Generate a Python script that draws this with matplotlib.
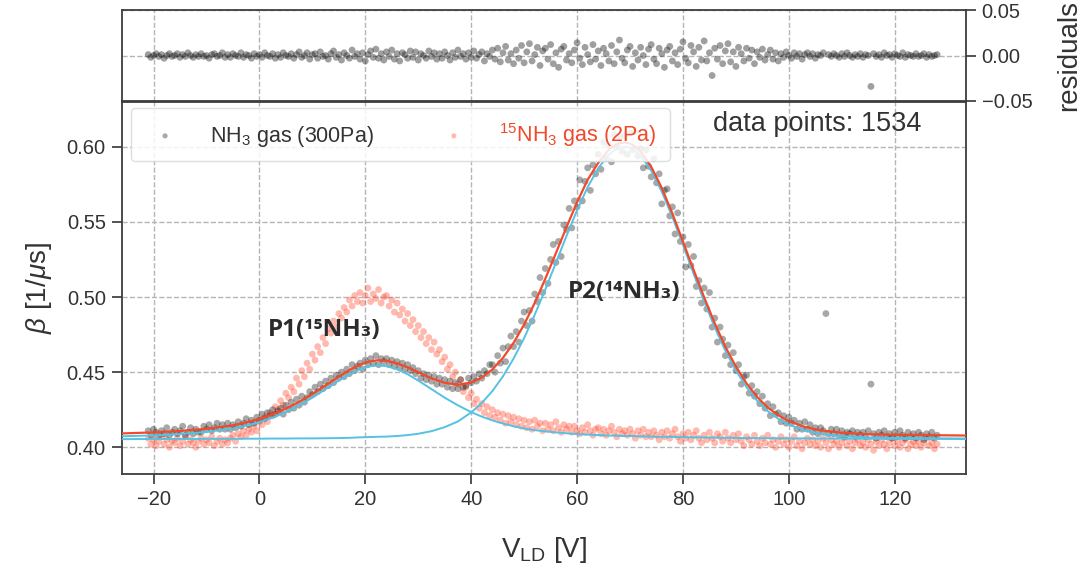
import numpy as np
import matplotlib
matplotlib.use("Agg")
import matplotlib.pyplot as plt

plt.rcParams['font.family'] = ['Liberation Sans', 'DejaVu Sans']
plt.rcParams['mathtext.fontset'] = 'custom'
plt.rcParams['mathtext.rm'] = 'Liberation Sans'
plt.rcParams['mathtext.it'] = 'Liberation Sans:italic'
plt.rcParams['mathtext.bf'] = 'Liberation Sans:bold'

# ---------------- data ----------------
v_start, v_stop, v_step = -21.0, 128.0, 0.5   # laser-diode voltage sampling

nh3_beta = [
    0.411, 0.408, 0.412, 0.410, 0.407, 0.411, 0.409, 0.413, 0.408, 0.410,
    0.412, 0.409, 0.411, 0.414, 0.408, 0.410, 0.413, 0.409, 0.412, 0.410,
    0.410, 0.414, 0.412, 0.415, 0.411, 0.413, 0.416, 0.412, 0.415, 0.412,
    0.416, 0.412, 0.415, 0.413, 0.417, 0.414, 0.416, 0.419, 0.415, 0.418,
    0.416, 0.420, 0.418, 0.422, 0.419, 0.423, 0.421, 0.425, 0.422, 0.424,
    0.426, 0.422, 0.428, 0.425, 0.430, 0.426, 0.432, 0.428, 0.434, 0.430,
    0.433, 0.437, 0.435, 0.440, 0.437, 0.442, 0.439, 0.444, 0.441, 0.446,
    0.443, 0.448, 0.446, 0.450, 0.447, 0.452, 0.449, 0.455, 0.451, 0.454,
    0.456, 0.452, 0.458, 0.455, 0.459, 0.456, 0.461, 0.455, 0.459, 0.457,
    0.459, 0.455, 0.458, 0.454, 0.457, 0.453, 0.456, 0.452, 0.455, 0.451,
    0.453, 0.449, 0.451, 0.446, 0.449, 0.445, 0.448, 0.444, 0.447, 0.442,
    0.446, 0.442, 0.445, 0.440, 0.444, 0.439, 0.443, 0.439, 0.445, 0.440,
    0.441, 0.446, 0.443, 0.447, 0.444, 0.449, 0.446, 0.451, 0.449, 0.455,
    0.455, 0.450, 0.461, 0.456, 0.466, 0.457, 0.467, 0.474, 0.467, 0.477,
    0.470, 0.484, 0.490, 0.481, 0.491, 0.484, 0.502, 0.497, 0.513, 0.503,
    0.519, 0.509, 0.525, 0.535, 0.523, 0.537, 0.527, 0.548, 0.545, 0.559,
    0.546, 0.564, 0.560, 0.578, 0.564, 0.577, 0.586, 0.571, 0.588, 0.582,
    0.595, 0.585, 0.603, 0.592, 0.601, 0.590, 0.608, 0.600, 0.607, 0.597,
    0.607, 0.595, 0.609, 0.598, 0.610, 0.594, 0.599, 0.586, 0.598, 0.587,
    0.580, 0.592, 0.576, 0.582, 0.562, 0.571, 0.572, 0.554, 0.560, 0.542,
    0.556, 0.537, 0.540, 0.520, 0.535, 0.521, 0.527, 0.507, 0.511, 0.496,
    0.506, 0.492, 0.503, 0.480, 0.486, 0.470, 0.480, 0.472, 0.461, 0.468,
    0.455, 0.463, 0.451, 0.455, 0.442, 0.447, 0.448, 0.436, 0.441, 0.434,
    0.437, 0.429, 0.434, 0.426, 0.429, 0.421, 0.427, 0.422, 0.423, 0.417,
    0.421, 0.416, 0.420, 0.416, 0.418, 0.412, 0.416, 0.412, 0.417, 0.412,
    0.415, 0.410, 0.413, 0.409, 0.413, 0.411, 0.489, 0.409, 0.412, 0.409,
    0.412, 0.408, 0.411, 0.407, 0.410, 0.409, 0.411, 0.407, 0.410, 0.408,
    0.410, 0.407, 0.411, 0.442, 0.409, 0.406, 0.410, 0.408, 0.411, 0.407,
    0.409, 0.406, 0.410, 0.407, 0.411, 0.408, 0.406, 0.410, 0.407, 0.409,
    0.406, 0.410, 0.408, 0.405, 0.409, 0.407, 0.410, 0.406, 0.408,
]

nh3_resid = [
    0.001, -0.002, 0.000, 0.002, -0.001, 0.001, -0.003, 0.000, 0.002, -0.001,
    0.000, 0.002, -0.002, 0.001, -0.001, 0.003, 0.000, -0.002, 0.001, -0.001,
    0.002, -0.001, 0.000, -0.003, 0.001, 0.002, -0.001, 0.000, 0.003, -0.002,
    0.001, -0.002, 0.002, 0.000, -0.001, 0.003, -0.002, 0.001, 0.000, -0.003,
    0.002, -0.001, 0.001, -0.002, 0.003, 0.000, -0.001, 0.002, -0.003, 0.001,
    -0.002, 0.003, 0.000, -0.001, 0.002, -0.003, 0.001, 0.004, -0.002, 0.000,
    0.003, -0.004, 0.001, 0.002, -0.003, 0.004, -0.001, 0.000, -0.004, 0.002,
    0.005, -0.002, 0.001, -0.005, 0.003, 0.000, -0.003, 0.006, -0.001, 0.002,
    -0.004, 0.003, -0.006, 0.001, 0.005, -0.002, 0.007, -0.003, 0.002, -0.005,
    0.004, -0.001, 0.006, -0.004, 0.002, -0.006, 0.003, 0.001, -0.003, 0.005,
    -0.002, 0.004, -0.005, 0.002, 0.000, -0.003, 0.005, -0.001, 0.003, -0.004,
    0.002, -0.003, 0.004, 0.000, -0.005, 0.003, -0.002, 0.006, -0.001, 0.002,
    -0.004, 0.003, -0.002, 0.005, -0.003, 0.001, 0.004, -0.006, 0.002, -0.001,
    0.006, -0.004, 0.008, -0.007, 0.003, 0.010, -0.005, 0.002, -0.009, 0.006,
    -0.003, 0.011, -0.008, 0.004, 0.013, -0.006, 0.001, 0.009, -0.011, 0.005,
    0.008, -0.004, 0.012, -0.009, 0.003, -0.013, 0.007, 0.010, -0.005, 0.002,
    -0.008, 0.006, 0.014, -0.003, -0.010, 0.009, 0.001, -0.007, 0.012, -0.004,
    0.005, -0.011, 0.008, 0.002, -0.006, 0.011, -0.009, 0.004, 0.017, -0.003,
    -0.008, 0.006, 0.010, -0.012, 0.003, -0.005, 0.009, 0.000, -0.010, 0.007,
    0.012, -0.004, -0.009, 0.008, 0.002, -0.013, 0.006, 0.010, -0.006, 0.003,
    -0.010, 0.007, 0.015, -0.003, -0.008, 0.011, 0.004, -0.012, 0.009, -0.005,
    0.016, -0.006, 0.003, -0.022, 0.008, -0.004, 0.011, -0.009, 0.005, 0.013,
    -0.007, 0.004, -0.012, 0.009, 0.002, -0.006, 0.008, -0.003, 0.006, -0.009,
    0.004, -0.002, 0.007, -0.005, 0.001, 0.006, -0.004, 0.003, -0.006, 0.002,
    -0.002, 0.004, 0.000, -0.003, 0.003, -0.001, 0.002, -0.004, 0.001, 0.003,
    -0.001, 0.002, -0.003, 0.001, 0.000, 0.003, -0.080, 0.001, -0.001, 0.002,
    0.000, -0.002, 0.002, -0.001, 0.003, 0.000, -0.002, 0.001, -0.001, 0.002,
    -0.002, 0.001, 0.000, -0.034, 0.002, -0.001, 0.001, -0.002, 0.003, 0.000,
    0.001, -0.002, 0.002, 0.000, -0.001, 0.003, -0.002, 0.001, 0.000, -0.001,
    0.002, -0.001, 0.000, 0.002, -0.002, 0.001, -0.001, 0.000, 0.001,
]

n15_beta = [
    0.406, 0.402, 0.405, 0.401, 0.404, 0.407, 0.402, 0.405, 0.400, 0.404,
    0.403, 0.406, 0.401, 0.404, 0.407, 0.402, 0.405, 0.403, 0.400, 0.404,
    0.406, 0.402, 0.405, 0.403, 0.407, 0.401, 0.404, 0.406, 0.402, 0.405,
    0.403, 0.406, 0.408, 0.404, 0.409, 0.407, 0.411, 0.408, 0.412, 0.410,
    0.414, 0.411, 0.417, 0.415, 0.420, 0.417, 0.423, 0.421, 0.427, 0.425,
    0.431, 0.428, 0.436, 0.433, 0.440, 0.437, 0.446, 0.442, 0.451, 0.447,
    0.456, 0.452, 0.462, 0.458, 0.467, 0.463, 0.473, 0.469, 0.479, 0.476,
    0.484, 0.480, 0.489, 0.486, 0.493, 0.490, 0.498, 0.494, 0.501, 0.497,
    0.503, 0.496, 0.501, 0.506, 0.497, 0.502, 0.499, 0.505, 0.496, 0.500,
    0.501, 0.494, 0.498, 0.490, 0.496, 0.488, 0.492, 0.484, 0.489, 0.481,
    0.485, 0.477, 0.481, 0.473, 0.477, 0.469, 0.473, 0.465, 0.470, 0.462,
    0.465, 0.457, 0.460, 0.452, 0.455, 0.447, 0.450, 0.442, 0.445, 0.437,
    0.440, 0.433, 0.436, 0.429, 0.432, 0.426, 0.429, 0.423, 0.427, 0.421,
    0.425, 0.420, 0.423, 0.418, 0.422, 0.416, 0.421, 0.417, 0.420, 0.415,
    0.419, 0.414, 0.418, 0.413, 0.417, 0.412, 0.418, 0.414, 0.416, 0.411,
    0.416, 0.412, 0.415, 0.411, 0.417, 0.413, 0.410, 0.415, 0.412, 0.414,
    0.410, 0.414, 0.411, 0.409, 0.413, 0.410, 0.415, 0.411, 0.408, 0.412,
    0.413, 0.409, 0.412, 0.408, 0.411, 0.414, 0.410, 0.407, 0.412, 0.409,
    0.411, 0.408, 0.412, 0.409, 0.406, 0.411, 0.408, 0.412, 0.407, 0.410,
    0.407, 0.411, 0.408, 0.405, 0.410, 0.407, 0.411, 0.406, 0.409, 0.412,
    0.407, 0.404, 0.409, 0.406, 0.410, 0.405, 0.408, 0.411, 0.406, 0.403,
    0.408, 0.405, 0.410, 0.406, 0.403, 0.409, 0.407, 0.404, 0.410, 0.406,
    0.403, 0.408, 0.405, 0.409, 0.404, 0.401, 0.407, 0.405, 0.402, 0.408,
    0.404, 0.401, 0.406, 0.403, 0.408, 0.402, 0.405, 0.400, 0.404, 0.407,
    0.402, 0.405, 0.400, 0.404, 0.407, 0.401, 0.404, 0.399, 0.403, 0.406,
    0.402, 0.405, 0.401, 0.404, 0.400, 0.406, 0.403, 0.399, 0.405, 0.402,
    0.404, 0.400, 0.403, 0.406, 0.401, 0.404, 0.399, 0.403, 0.405, 0.401,
    0.403, 0.400, 0.405, 0.402, 0.398, 0.404, 0.401, 0.405, 0.402, 0.399,
    0.403, 0.406, 0.401, 0.404, 0.400, 0.403, 0.405, 0.399, 0.402, 0.404,
    0.401, 0.404, 0.400, 0.403, 0.406, 0.401, 0.403, 0.399, 0.402,
]

# fitted curves (total fit and the two peak components)
fit_v = [-26, -20, -15, -10, -5, -2.5, 0, 2.5, 5, 7.5,
         10, 12.5, 15, 17, 19, 21, 22.5, 24, 26, 28,
         30, 32.5, 35, 37.5, 40, 42, 44, 46, 48, 50,
         52, 54, 56, 58, 60, 62, 64, 66, 67, 68,
         69, 70, 71, 72, 74, 76, 78, 80, 82, 84,
         86, 88, 90, 92, 94, 96, 98, 100, 103, 106,
         110, 115, 120, 126, 133.4]
fit_total = [0.4092, 0.4099, 0.4108, 0.4123, 0.4146, 0.4166, 0.4189, 0.4220, 0.4257, 0.4303,
             0.4354, 0.4412, 0.4470, 0.4514, 0.4550, 0.4573, 0.4580, 0.4576, 0.4559, 0.4532,
             0.4499, 0.4459, 0.4429, 0.4416, 0.4431, 0.4464, 0.4518, 0.4595, 0.4695, 0.4817,
             0.4961, 0.5122, 0.5292, 0.5465, 0.5631, 0.5781, 0.5894, 0.5982, 0.6006, 0.6024,
             0.6029, 0.6022, 0.6002, 0.5970, 0.5867, 0.5726, 0.5556, 0.5369, 0.5181, 0.4998,
             0.4825, 0.4669, 0.4537, 0.4425, 0.4335, 0.4265, 0.4213, 0.4173, 0.4136, 0.4112,
             0.4097, 0.4087, 0.4083, 0.4081, 0.4078]
fit_p1 = [0.4073, 0.4079, 0.4088, 0.4102, 0.4125, 0.4144, 0.4167, 0.4197, 0.4234, 0.4279,
          0.4330, 0.4387, 0.4444, 0.4486, 0.4519, 0.4540, 0.4545, 0.4540, 0.4519, 0.4486,
          0.4444, 0.4387, 0.4330, 0.4279, 0.4234, 0.4204, 0.4179, 0.4158, 0.4140, 0.4125,
          0.4114, 0.4106, 0.4099, 0.4093, 0.4088, 0.4084, 0.4081, 0.4078, 0.4077, 0.4076,
          0.4075, 0.4075, 0.4074, 0.4073, 0.4071, 0.4070, 0.4069, 0.4067, 0.4066, 0.4065,
          0.4064, 0.4063, 0.4062, 0.4061, 0.4061, 0.4060, 0.4060, 0.4059, 0.4059, 0.4058,
          0.4058, 0.4057, 0.4056, 0.4056, 0.4055]
fit_p2 = [0.4054, 0.4055, 0.4055, 0.4056, 0.4056, 0.4057, 0.4057, 0.4058, 0.4058, 0.4059,
          0.4059, 0.4060, 0.4061, 0.4063, 0.4066, 0.4068, 0.4070, 0.4071, 0.4075, 0.4081,
          0.4090, 0.4107, 0.4134, 0.4172, 0.4232, 0.4295, 0.4374, 0.4472, 0.4590, 0.4727,
          0.4882, 0.5051, 0.5228, 0.5407, 0.5578, 0.5732, 0.5858, 0.5949, 0.5976, 0.5996,
          0.6002, 0.5995, 0.5975, 0.5943, 0.5841, 0.5701, 0.5532, 0.5347, 0.5156, 0.4971,
          0.4798, 0.4643, 0.4511, 0.4400, 0.4310, 0.4241, 0.4189, 0.4150, 0.4112, 0.4089,
          0.4074, 0.4065, 0.4062, 0.4060, 0.4058]

x_ticks = [-20, 0, 20, 40, 60, 80, 100, 120]
y_ticks = [0.40, 0.45, 0.50, 0.55, 0.60]
r_ticks = [-0.05, 0.00, 0.05]

label_nh3 = 'NH$_3$ gas (300Pa)'
label_n15 = '$^{15}$NH$_3$ gas (2Pa)'
n_points_text = 'data points: 1534'

# ---------------- styling ----------------
TXT = '#333333'
SPINE = '#3d3d3d'
GRID = '#b5b5b5'
RED = '#f2492a'
RED_PTS = '#ff3d1f'
BLUE = '#55c1e3'
BLACK_PTS = '#1a1a1a'

v = np.arange(v_start, v_stop + v_step / 2, v_step)
n = min(len(v), len(nh3_beta), len(nh3_resid), len(n15_beta))

fig = plt.figure(figsize=(10.88, 5.69), dpi=100)
ax_r = fig.add_axes([0.1119, 0.8225, 0.7757, 0.1599])
ax = fig.add_axes([0.1119, 0.16696, 0.7757, 0.6529], sharex=ax_r)

for a in (ax, ax_r):
    for s in a.spines.values():
        s.set_color(SPINE)
        s.set_linewidth(1.3)
    a.grid(True, ls='--', color=GRID, lw=1.0)
    a.set_axisbelow(True)
    a.tick_params(direction='out', length=7, width=1.25, colors=SPINE,
                  labelcolor=TXT, labelsize=14.5, pad=4.5)

# residuals panel
ax_r.scatter(v[:n], nh3_resid[:n], s=24, color=BLACK_PTS, alpha=0.42,
             edgecolors='none', zorder=3)
ax_r.set_ylim(-0.05, 0.05)
ax_r.set_yticks(r_ticks)
ax_r.set_yticklabels(['0.05' if t > 0 else ('0.00' if t == 0 else '\u22120.05') for t in r_ticks])
ax_r.yaxis.tick_right()
ax_r.yaxis.set_label_position('right')
ax_r.set_ylabel('residuals', fontsize=20, color=TXT, labelpad=17)
ax_r.tick_params(axis='x', length=0, labelbottom=False)

# main panel
sc_red = ax.scatter(v[:n], n15_beta[:n], s=24, color=RED_PTS, alpha=0.36,
                    edgecolors='none', zorder=2)
sc_blk = ax.scatter(v[:n], nh3_beta[:n], s=24, color=BLACK_PTS, alpha=0.38,
                    edgecolors='none', zorder=3)
ax.plot(fit_v, fit_p1, color=BLUE, lw=1.4, zorder=4)
ax.plot(fit_v, fit_p2, color=BLUE, lw=1.4, zorder=4)
ax.plot(fit_v, fit_total, color=RED, lw=1.6, zorder=5)

ax.set_xlim(-26.0, 133.4)
ax.set_ylim(0.3822, 0.6295)
ax.set_xticks(x_ticks)
ax.set_xticklabels([('\u2212' + str(abs(t))) if t < 0 else str(t) for t in x_ticks])
ax.set_yticks(y_ticks)
ax.set_yticklabels(['%.2f' % t for t in y_ticks])
ax.set_xlabel('V$_{\\rm LD}$ [V]', fontsize=20, color=TXT, labelpad=19)
ax.set_ylabel('$\\beta$ [1/$\\mu$s]', fontsize=20, color=TXT, labelpad=9)

leg = ax.legend([sc_blk, sc_red], [label_nh3, label_n15], loc='upper left',
                bbox_to_anchor=(0.0105, 0.986), borderaxespad=0, ncol=2,
                fontsize=15.5, frameon=True, fancybox=True, markerscale=0.75,
                handletextpad=1.1, columnspacing=2.7, borderpad=0.6)
leg.get_frame().set_edgecolor('#d9d9d9')
leg.get_frame().set_linewidth(1.0)
leg.get_frame().set_alpha(0.85)
leg.get_texts()[0].set_color(TXT)
leg.get_texts()[1].set_color(RED)

ax.text(0.8244, 0.9427, n_points_text, transform=ax.transAxes, fontsize=19.5,
        color=TXT, ha='center', va='center')

ann_font = ['Open Sans', 'DejaVu Sans']
ax.text(12.3, 0.478, 'P1(\u00b9\u2075NH\u2083)', fontsize=17.5, fontweight='bold',
        family=ann_font, color='#2b2b2b', ha='center', va='center', zorder=6)
ax.text(68.9, 0.5032, 'P2(\u00b9\u2074NH\u2083)', fontsize=17.5, fontweight='bold',
        family=ann_font, color='#2b2b2b', ha='center', va='center', zorder=6)

fig.savefig('out.png', dpi=100)
